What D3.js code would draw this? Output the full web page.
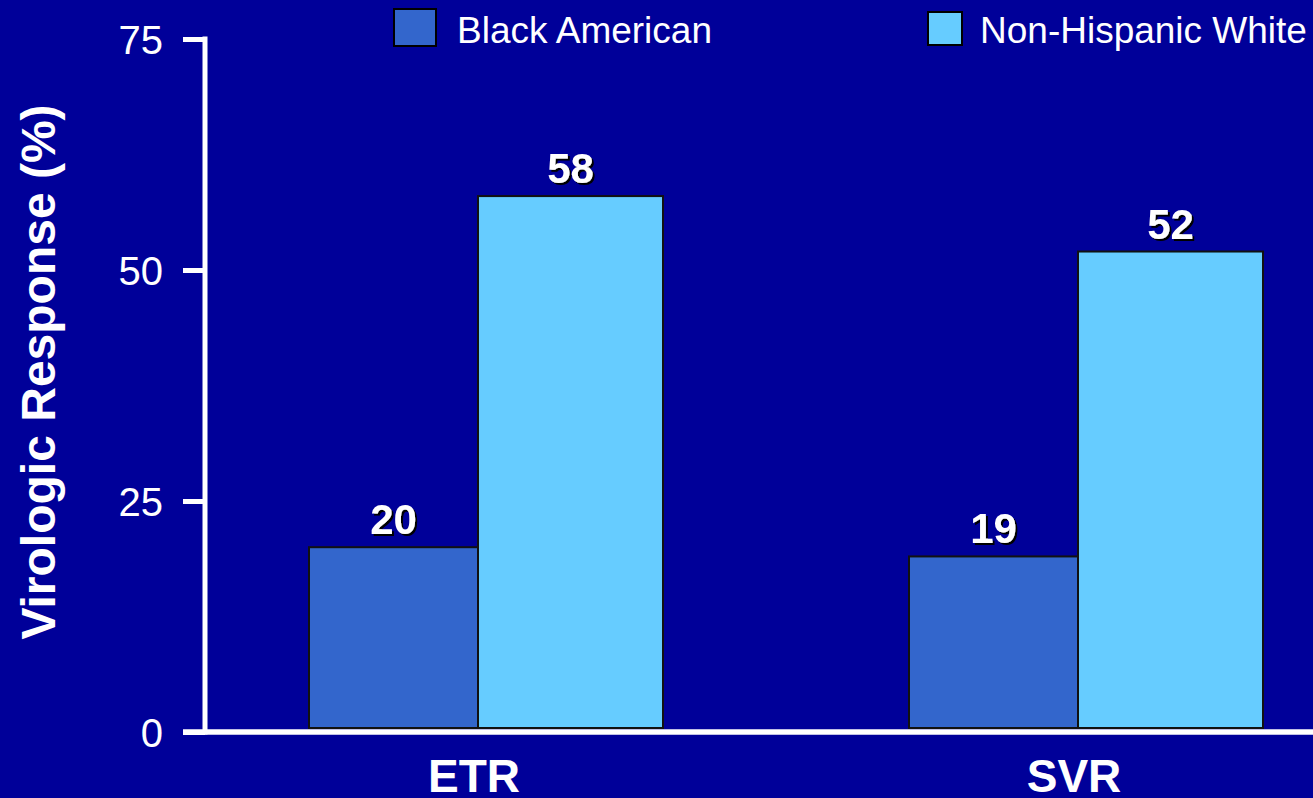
<!DOCTYPE html>
<html>
<head>
<meta charset="utf-8">
<script src="https://cdn.jsdelivr.net/npm/d3@7"></script>
<style>
  html, body { margin: 0; padding: 0; background: #000099; overflow: hidden; }
  svg { display: block; }
</style>
</head>
<body>
<svg id="chart" width="1313" height="798"></svg>
<script>
// Virologic response by group, end-of-treatment (ETR) and sustained (SVR)
const categories = ["ETR", "SVR"];
const seriesNames = ["Black American", "Non-Hispanic White"];
const blackAmerican = [20, 19];
const nonHispanicWhite = [58, 52];
const yTicks = [0, 25, 50, 75];
const seriesColors = ["#3366CC", "#66CCFF"];

const seriesValues = [blackAmerican, nonHispanicWhite];
const font = "'Liberation Sans', Arial, Helvetica, sans-serif";

const svg = d3.select("#chart");
const W = 1313, H = 798;

svg.append("rect").attr("width", W).attr("height", H).attr("fill", "#000099");

const defs = svg.append("defs");
const shadow = defs.append("filter").attr("id", "txtShadow")
  .attr("x", "-20%").attr("y", "-20%").attr("width", "140%").attr("height", "140%");
shadow.append("feDropShadow")
  .attr("dx", 2).attr("dy", 2).attr("stdDeviation", 0.4)
  .attr("flood-color", "#000").attr("flood-opacity", 1);

// Scales
const y = d3.scaleLinear().domain([0, 75]).range([732, 39]);
const x = d3.scaleBand().domain(categories).range([159, 1413]).paddingInner(0.41).paddingOuter(0.25);
// sub-bar offsets and widths within each group
const subX = d3.scaleOrdinal().domain(seriesNames).range([0, 169]);
const subW = d3.scaleOrdinal().domain(seriesNames).range([169, 185]);

// Bars
const bars = [];
categories.forEach((c, i) => {
  seriesNames.forEach((s, j) => {
    bars.push({ cat: c, series: s, value: seriesValues[j][i], color: seriesColors[j] });
  });
});

const barG = svg.append("g");
barG.selectAll("rect").data(bars).join("rect")
  .attr("x", d => x(d.cat) + subX(d.series))
  .attr("y", d => y(d.value))
  .attr("width", d => subW(d.series))
  .attr("height", d => y(0) - 4 - y(d.value))
  .attr("fill", d => d.color)
  .attr("stroke", "#111")
  .attr("stroke-width", 2);

// Value labels
barG.selectAll("text").data(bars).join("text")
  .attr("x", d => x(d.cat) + subX(d.series) + subW(d.series) / 2)
  .attr("y", d => y(d.value) - 13)
  .attr("text-anchor", "middle")
  .attr("font-family", font)
  .attr("font-weight", "bold")
  .attr("font-size", 42)
  .attr("fill", "#fff")
  .attr("filter", "url(#txtShadow)")
  .text(d => d.value);

// Y axis
const yAxis = d3.axisLeft(y).tickValues(yTicks).tickSize(22).tickPadding(20).tickFormat(d3.format("d"));
const yG = svg.append("g").attr("transform", "translate(205,0)").call(yAxis);
yG.select(".domain").attr("d", `M0,${y(75) - 2.5}V${y(0) + 2.5}`)
  .attr("stroke", "#fff").attr("stroke-width", 5).attr("fill", "none");
yG.selectAll(".tick line").attr("stroke", "#fff").attr("stroke-width", 5);
yG.selectAll(".tick text")
  .attr("fill", "#fff")
  .attr("font-family", font)
  .attr("font-size", 40)
  .attr("dy", "0.36em");

// X axis baseline
svg.append("line")
  .attr("x1", 183).attr("x2", W)
  .attr("y1", y(0)).attr("y2", y(0))
  .attr("stroke", "#fff").attr("stroke-width", 5.5);

// Category labels
svg.append("g").selectAll("text").data(categories).join("text")
  .attr("x", d => x(d) + x.bandwidth() / 2 - 12)
  .attr("y", 792)
  .attr("text-anchor", "middle")
  .attr("font-family", font)
  .attr("font-weight", "bold")
  .attr("font-size", 46)
  .attr("fill", "#fff")
  .text(d => d);

// Y axis title
svg.append("text")
  .attr("transform", "translate(55,372) rotate(-90)")
  .attr("text-anchor", "middle")
  .attr("font-family", font)
  .attr("font-weight", "bold")
  .attr("font-size", 48)
  .attr("fill", "#fff")
  .text("Virologic Response (%)");

// Legend
const legendItems = [
  { name: seriesNames[0], color: seriesColors[0], sx: 394, sy: 9, sw: 42, sh: 37, tx: 457 },
  { name: seriesNames[1], color: seriesColors[1], sx: 928, sy: 12, sw: 34, sh: 33, tx: 980 }
];
const leg = svg.append("g").selectAll("g").data(legendItems).join("g");
leg.append("rect")
  .attr("x", d => d.sx).attr("y", d => d.sy)
  .attr("width", d => d.sw).attr("height", d => d.sh)
  .attr("fill", d => d.color)
  .attr("stroke", "#000").attr("stroke-width", 2);
leg.append("text")
  .attr("x", d => d.tx).attr("y", 43)
  .attr("font-family", font)
  .attr("font-size", 37)
  .attr("fill", "#fff")
  .text(d => d.name);
</script>
</body>
</html>
